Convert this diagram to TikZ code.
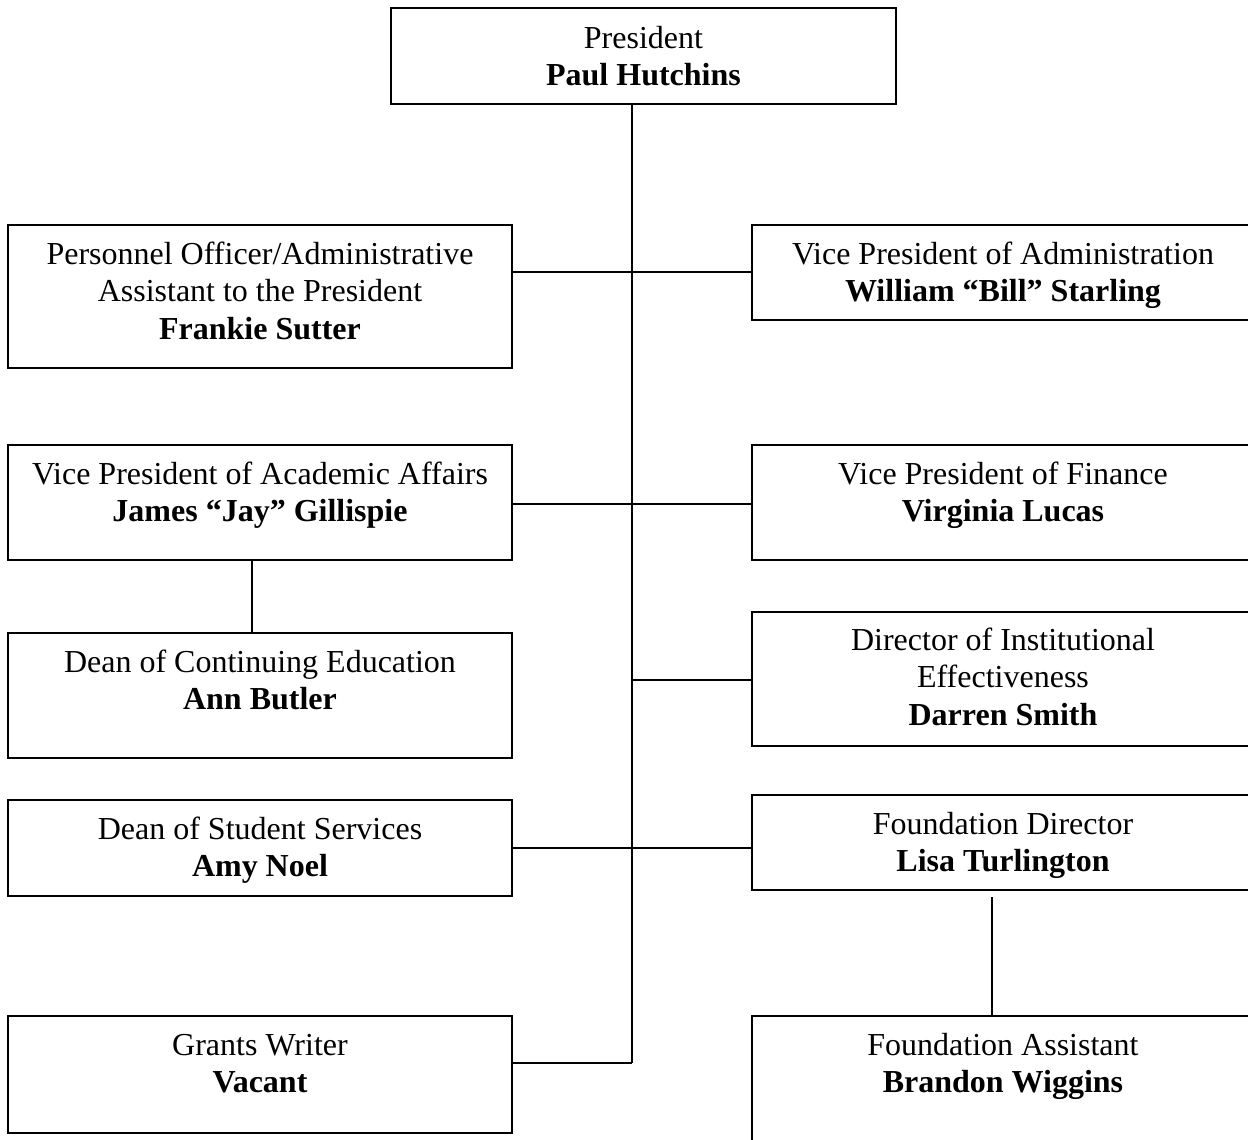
\documentclass[tikz,border=0pt]{standalone}
\usepackage{fontspec}
\setmainfont{Liberation Serif}
\begin{document}
\begin{tikzpicture}[x=0.5pt,y=-0.5pt,
  box/.style={draw,line width=1pt,rectangle,inner sep=0pt},
  label/.style={anchor=base,align=flush center,text width=250pt,inner sep=0pt,
    font=\fontsize{16pt}{18.75pt}\selectfont},
  link/.style={line width=0.9pt}]
\useasboundingbox (0,0) rectangle (1248,1140);
\clip (0,0) rectangle (1248,1140);

% boxes: \boxat{name}{left}{top}{right}{bottom}
\newcommand\boxat[5]{%
  \node[box,minimum width={(#4-#2)*0.5pt},minimum height={(#5-#3)*0.5pt}]
    (#1) at ({(#2+#4)/2},{(#3+#5)/2}) {};}

\boxat{pres}{391}{8}{896}{104}
\boxat{pers}{8}{225}{512}{368}
\boxat{vpadm}{752}{225}{1254}{320}
\boxat{vpacad}{8}{445}{512}{560}
\boxat{vpfin}{752}{445}{1254}{560}
\boxat{dean}{8}{633}{512}{758}
\boxat{dir}{752}{612}{1254}{746}
\boxat{stud}{8}{800}{512}{896}
\boxat{found}{752}{795}{1254}{890}
\boxat{grants}{8}{1016}{512}{1133}
\boxat{asst}{752}{1016}{1254}{1170}

% texts, first baseline 39px below each box top
\node[label] (tpres) at (643.5,48) {President\\\textbf{Paul Hutchins}};
\node[label] (tpers) at (260,264) {Personnel Officer/Administrative\\Assistant to the President\\\textbf{Frankie Sutter}};
\node[label] (tvpadm) at (1003,264) {Vice President of Administration\\\textbf{William “Bill” Starling}};
\node[label] (tvpacad) at (260,484) {Vice President of Academic Affairs\\\textbf{James “Jay” Gillispie}};
\node[label] (tvpfin) at (1003,484) {Vice President of Finance\\\textbf{Virginia Lucas}};
\node[label] (tdean) at (260,672) {Dean of Continuing Education\\\textbf{Ann Butler}};
\node[label] (tdir) at (1003,650) {Director of Institutional\\Effectiveness\\\textbf{Darren Smith}};
\node[label] (tstud) at (260,839) {Dean of Student Services\\\textbf{Amy Noel}};
\node[label] (tfound) at (1003,834) {Foundation Director\\\textbf{Lisa Turlington}};
\node[label] (tgrants) at (260,1055) {Grants Writer\\\textbf{Vacant}};
\node[label] (tasst) at (1003,1055) {Foundation Assistant\\\textbf{Brandon Wiggins}};

% junction points on the main spine
\coordinate (j1) at (632,272);
\coordinate (j2) at (632,504);
\coordinate (j3) at (632,680);
\coordinate (j4) at (632,848);
\coordinate (j5) at (632,1063);
\coordinate (d1) at (252,600);
\coordinate (f1) at (992,897);

% spine
\draw[link] (pres.south -| j5) -- (j5);
% branches
\draw[link] (pers.east |- j1) -- (vpadm.west |- j1);
\draw[link] (vpacad.east |- j2) -- (vpfin.west |- j2);
\draw[link] (j3) -- (dir.west |- j3);
\draw[link] (stud.east |- j4) -- (found.west |- j4);
\draw[link] (grants.east |- j5) -- (j5);
\draw[link] (vpacad.south -| d1) -- (dean.north -| d1);
\draw[link] (f1) -- (asst.north -| f1);
\end{tikzpicture}
\end{document}
